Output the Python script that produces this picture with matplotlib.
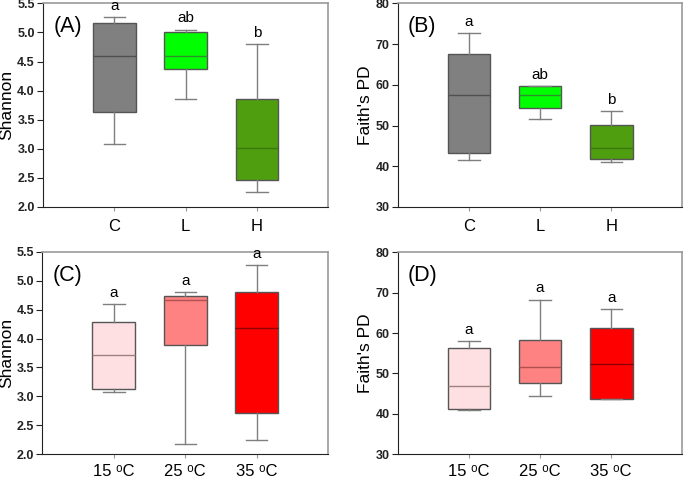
import matplotlib.pyplot as plt

plt.rcParams['font.family'] = ['Liberation Sans', 'DejaVu Sans']

# box statistics: whisker low, q1, median, q3, whisker high
treat_labels = ["C", "L", "H"]
temp_labels = ["15 \u1d52C", "25 \u1d52C", "35 \u1d52C"]

shannon_treat = [[3.09, 3.63, 4.59, 5.17, 5.26],
                 [3.85, 4.38, 4.60, 5.00, 5.05],
                 [2.26, 2.47, 3.01, 3.86, 4.80]]
pd_treat = [[41.5, 43.2, 57.6, 67.5, 72.8],
            [51.6, 54.3, 57.5, 59.6, 59.6],
            [41.0, 41.9, 44.6, 50.2, 53.6]]
shannon_temp = [[3.08, 3.12, 3.71, 4.28, 4.59],
                [2.17, 3.88, 4.66, 4.74, 4.80],
                [2.25, 2.72, 4.19, 4.80, 5.27]]
pd_temp = [[41.0, 41.3, 46.9, 56.4, 58.0],
           [44.4, 47.6, 51.6, 58.3, 68.3],
           [43.55, 43.6, 52.4, 61.3, 65.95]]

letters_a = ["a", "ab", "b"]
letters_b = ["a", "ab", "b"]
letters_c = ["a", "a", "a"]
letters_d = ["a", "a", "a"]

treat_colors = ["#808080", "#00ff00", "#4f9e0f"]
treat_medians = ["#505050", "#2f8f2f", "#3a7a0a"]
temp_colors = ["#ffe0e2", "#fe8282", "#fe0000"]
temp_medians = ["#a08080", "#b05050", "#900000"]


def panel(ax, stats, labels, colors, medcols, letters, ylim, yticks, yfmt, ylabel, tag):
    bxp = []
    for s, lab in zip(stats, labels):
        bxp.append({"whislo": s[0], "q1": s[1], "med": s[2], "q3": s[3],
                    "whishi": s[4], "fliers": [], "label": lab})
    res = ax.bxp(bxp, positions=[1, 2, 3], widths=0.6, patch_artist=True,
                 showfliers=False,
                 boxprops=dict(edgecolor="#555555", linewidth=1.0),
                 whiskerprops=dict(color="#7f7f7f", linewidth=1.0),
                 capprops=dict(color="#7f7f7f", linewidth=1.0),
                 medianprops=dict(linewidth=1.0))
    for b, c in zip(res["boxes"], colors):
        b.set_facecolor(c)
    for m, c in zip(res["medians"], medcols):
        m.set_color(c)
    for i, (s, t) in enumerate(zip(stats, letters)):
        ax.annotate(t, (i + 1, s[4]), xytext=(0, 3), textcoords="offset points",
                    ha="center", va="bottom", fontsize=11)
    ax.set_xlim(0, 4)
    ax.set_ylim(*ylim)
    ax.set_yticks(yticks)
    ax.set_yticklabels([yfmt.format(v) for v in yticks], fontsize=9,
                       fontweight="bold", color="#222222")
    ax.set_xticks([1, 2, 3])
    ax.set_xticklabels(labels, fontsize=12)
    ax.tick_params(axis="x", length=3, color="#999999", pad=6)
    ax.tick_params(axis="y", length=4, color="#222222", pad=2)
    ax.set_ylabel(ylabel, fontsize=12.5, labelpad=2)
    for side in ["left", "bottom"]:
        ax.spines[side].set_color("#222222")
    for side in ["top", "right"]:
        ax.spines[side].set_color("#999999")
        ax.spines[side].set_linewidth(1.2)
    ax.text(0.035, 0.885, tag, transform=ax.transAxes, fontsize=15.5,
            ha="left", va="center")


fig = plt.figure(figsize=(6.85, 4.78), dpi=100)
ax_a = fig.add_axes([0.063, 0.567, 0.416, 0.426])
ax_b = fig.add_axes([0.581, 0.567, 0.415, 0.426])
ax_c = fig.add_axes([0.062, 0.050, 0.417, 0.423])
ax_d = fig.add_axes([0.581, 0.050, 0.415, 0.422])

panel(ax_a, shannon_treat, treat_labels, treat_colors, treat_medians, letters_a,
      (2.0, 5.5), [2.0, 2.5, 3.0, 3.5, 4.0, 4.5, 5.0, 5.5], "{:.1f}", "Shannon", "(A)")
panel(ax_b, pd_treat, treat_labels, treat_colors, treat_medians, letters_b,
      (30, 80), [30, 40, 50, 60, 70, 80], "{:d}", "Faith's PD", "(B)")
panel(ax_c, shannon_temp, temp_labels, temp_colors, temp_medians, letters_c,
      (2.0, 5.5), [2.0, 2.5, 3.0, 3.5, 4.0, 4.5, 5.0, 5.5], "{:.1f}", "Shannon", "(C)")
panel(ax_d, pd_temp, temp_labels, temp_colors, temp_medians, letters_d,
      (30, 80), [30, 40, 50, 60, 70, 80], "{:d}", "Faith's PD", "(D)")
for ax in (ax_c, ax_d):
    ax.tick_params(axis="x", pad=4)

fig.savefig("out.png", dpi=100)
